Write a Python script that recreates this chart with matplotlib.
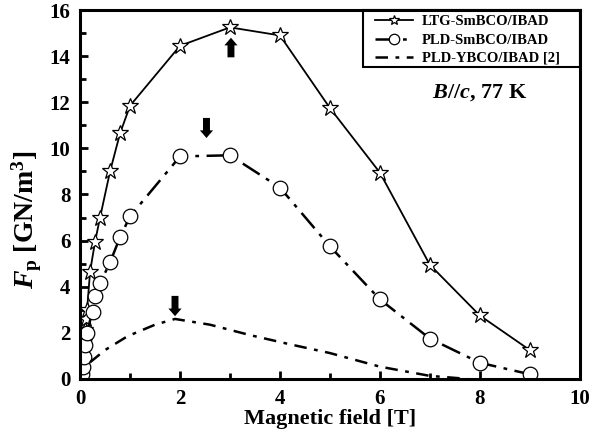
import numpy as np
import matplotlib
matplotlib.use("Agg")
import matplotlib.pyplot as plt
from matplotlib.patches import Rectangle

# LTG-SmBCO/IBAD (stars)
ltg_b = np.array([0.02, 0.04, 0.06, 0.08, 0.1, 0.12, 0.14, 0.2, 0.3, 0.4, 0.6, 0.8, 1.0, 2, 3, 4, 5, 6, 7, 8, 9])
ltg_fp = np.array([0.15, 0.7, 1.15, 1.6, 2.1, 2.6, 3.0, 4.65, 5.95, 7.0, 9.0, 10.65, 11.85, 14.45, 15.25, 14.9, 11.75, 8.95, 4.95, 2.75, 1.25])

# PLD-SmBCO/IBAD (circles)
pld_b = np.array([0.03, 0.05, 0.08, 0.1, 0.13, 0.25, 0.3, 0.4, 0.6, 0.8, 1.0, 2, 3, 4, 5, 6, 7, 8, 9])
pld_fp = np.array([0.2, 0.5, 0.95, 1.45, 2.0, 2.9, 3.6, 4.15, 5.05, 6.15, 7.05, 9.65, 9.7, 8.3, 5.75, 3.45, 1.75, 0.7, 0.2])

# PLD-YBCO/IBAD [2] (no markers)
ybco_b = np.array([0.2, 0.5, 0.95, 1.5, 1.9, 2.6, 3.4, 4.2, 5.0, 6.0, 7.0, 7.75])
ybco_fp = np.array([0.72, 1.25, 1.85, 2.35, 2.6, 2.35, 1.9, 1.5, 1.12, 0.53, 0.13, 0.0])

plt.rcParams['font.family'] = ['Liberation Serif', 'DejaVu Serif']
plt.rcParams['font.weight'] = 'bold'
plt.rcParams['mathtext.fontset'] = 'custom'
plt.rcParams['mathtext.rm'] = 'Liberation Serif:bold'
plt.rcParams['mathtext.bf'] = 'Liberation Serif:bold'
plt.rcParams['mathtext.it'] = 'Liberation Serif:bold:italic'

fig = plt.figure(figsize=(6.02, 4.38), dpi=100)
ax = fig.add_axes([0.133, 0.135, 0.830, 0.842])

ax.plot(ltg_b, ltg_fp, '-', color='k', lw=1.3, marker='*', ms=12, mfc='white',
        mec='k', mew=0.9, label='LTG-SmBCO/IBAD')
ax.plot(pld_b, pld_fp, color='k', lw=1.8, dashes=(8, 3, 1.5, 3), marker='o', ms=10.5,
        mfc='white', mec='k', mew=0.9, label='PLD-SmBCO/IBAD')
ax.plot(ybco_b, ybco_fp, color='k', lw=1.8, dashes=(5, 3, 1.5, 3),
        label='PLD-YBCO/IBAD [2]')

# arrows marking the peaks
arrow = dict(arrowstyle='simple,head_length=0.55,head_width=0.95,tail_width=0.5',
             color='k', lw=0, shrinkA=0, shrinkB=0)
ax.annotate('', xy=(3.02, 14.8), xytext=(3.02, 13.95), arrowprops=arrow)
ax.annotate('', xy=(2.53, 10.45), xytext=(2.53, 11.32), arrowprops=arrow)
ax.annotate('', xy=(1.9, 2.72), xytext=(1.9, 3.6), arrowprops=arrow)

ax.text(8.0, 12.4, r'$B$//$c$, 77 K', fontsize=16, fontweight='bold', ha='center', va='center')

ax.set_xlim(0, 10)
ax.set_ylim(0, 16)
ax.set_xticks(np.arange(0, 11, 2))
ax.set_xticks(np.arange(1, 10, 2), minor=True)
ax.set_yticks(np.arange(0, 17, 2))
ax.set_yticks(np.arange(1, 16, 2), minor=True)
ax.tick_params(which='both', direction='in', top=False, right=False, width=2)
ax.tick_params(which='major', length=6, labelsize=15, pad=7)
ax.tick_params(which='minor', length=4)
for s in ax.spines.values():
    s.set_linewidth(2.2)

ax.set_xlabel('Magnetic field [T]', fontsize=16, fontweight='bold', labelpad=0)
ax.set_ylabel(r'$F_{\rm p}$ [GN/m$^{\rm 3}$]', fontsize=20, fontweight='bold')
ax.yaxis.set_label_coords(-0.072, 0.43)

# legend without its own frame, box drawn separately to match the wide original
leg = ax.legend(loc='upper left', bbox_to_anchor=(0.59, 0.986), borderaxespad=0,
                borderpad=0, frameon=False, fontsize=10.5, handlelength=2.6,
                handletextpad=0.62, labelspacing=0.34)
for h in leg.legend_handles:
    h.set_markersize(7.5)
ax.add_patch(Rectangle((0.566, 0.8455), 0.434, 0.1545, transform=ax.transAxes,
                       fill=False, edgecolor='k', lw=1.5, zorder=5, clip_on=False))

fig.savefig('out.png', dpi=100)
